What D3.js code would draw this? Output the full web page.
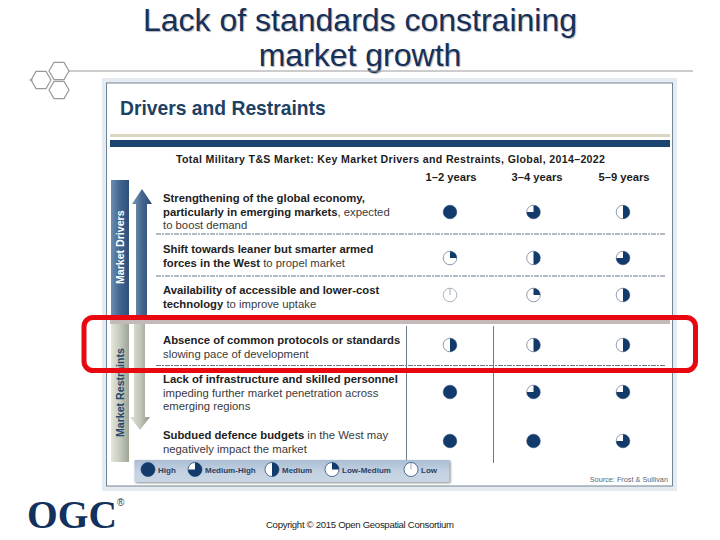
<!DOCTYPE html>
<html><head><meta charset="utf-8">
<script src="https://cdn.jsdelivr.net/npm/d3@7"></script>
<style>html,body{margin:0;padding:0;background:#fff}svg{display:block}text{font-family:"Liberation Sans",Arial,sans-serif}</style>
</head><body><div id="c"></div>
<script>
// ---- data ----
const titleLines = ["Lack of standards constraining", "market growth"];
const panelTitle = "Drivers and Restraints";
const subtitle = "Total Military T&S Market: Key Market Drivers and Restraints, Global, 2014–2022";
const periods = ["1–2 years", "3–4 years", "5–9 years"];
const factors = ["d1", "d2", "d3", "r1", "r2", "r3"];
// each text line: [bold part, regular part]
const factorText = [
  [["Strengthening of the global economy,", ""], ["particularly in  emerging markets", ", expected"], ["", "to boost demand"]],
  [["Shift towards leaner but smarter armed", ""], ["forces in the West", " to propel market"]],
  [["Availability of accessible and lower-cost", ""], ["technology", " to improve uptake"]],
  [["Absence of common protocols or standards", ""], ["", "slowing pace of development"]],
  [["Lack of infrastructure and skilled personnel", ""], ["", "impeding further market penetration across"], ["", "emerging regions"]],
  [["Subdued defence budgets", " in the West may"], ["", "negatively impact the market"]]
];
// impact level, share of the circle filled
const impact1to2 = [1, 0.25, 0, 0.5, 1, 1];
const impact3to4 = [0.75, 0.5, 0.25, 0.5, 0.75, 1];
const impact5to9 = [0.5, 0.75, 0.5, 0.5, 0.75, 0.75];
const legendLabels = ["High", "Medium-High", "Medium", "Low-Medium", "Low"];
const legendLevels = [1, 0.75, 0.5, 0.25, 0];
const sideLabels = ["Market Drivers", "Market Restraints"];
const sourceText = "Source: Frost & Sullivan";
const copyrightText = "Copyright © 2015 Open Geospatial Consortium";

// ---- layout ----
const W = 720, H = 540;
const navy = "#123a6b";
const svg = d3.select("#c").append("svg").attr("width", W).attr("height", H);
const defs = svg.append("defs");
function grad(id, stops, horiz) {
  const g = defs.append("linearGradient").attr("id", id)
    .attr("x1", 0).attr("y1", 0).attr("x2", horiz ? 1 : 0).attr("y2", horiz ? 0 : 1);
  stops.forEach(([o, c]) => g.append("stop").attr("offset", o).attr("stop-color", c));
}
grad("gBlue", [[0, "#6f8db0"], [0.5, "#3f6690"], [1, "#2c4f7a"]], true);
grad("gGrey", [[0, "#e4e6da"], [0.5, "#c4cabb"], [1, "#9da596"]], true);
grad("gLeg", [[0, "#a9bdd4"], [0.5, "#c3d1e1"], [1, "#c9d6e5"]], false);
grad("gUp", [[0, "#7d99b8"], [0.5, "#44678f"], [1, "#2a4a72"]], true);
grad("gDown", [[0, "#dfe3d8"], [0.5, "#c3c8bc"], [1, "#8f9689"]], true);

// slide title
svg.append("g").selectAll("text").data(titleLines).join("text")
  .attr("x", 360).attr("y", (d, i) => 31 + i * 35)
  .attr("text-anchor", "middle").attr("font-size", 32).attr("fill", "#16305a")
  .style("text-shadow", "1px 1px 1px #b5b5b5").text(d => d);

// hexagon decoration and rule
svg.append("line").attr("x1", 68).attr("x2", 693).attr("y1", 71).attr("y2", 71)
  .attr("stroke", "#9a9a9a").attr("stroke-width", 1.2);
const hexLine = d3.line().curve(d3.curveLinearClosed);
const hex = (cx, cy, r) => d3.range(6).map(i => [cx + r * Math.cos(i * Math.PI / 3), cy + r * Math.sin(i * Math.PI / 3)]);
svg.append("g").selectAll("path").data([[59, 71], [41, 80], [59, 90]]).join("path")
  .attr("d", d => hexLine(hex(d[0], d[1], 10))).attr("fill", "#fff")
  .attr("stroke", "#9a9a9a").attr("stroke-width", 1.2);
svg.append("line").attr("x1", 29).attr("x2", 33).attr("y1", 80).attr("y2", 80).attr("stroke", "#9a9a9a");

// panel
svg.append("rect").attr("x", 102).attr("y", 78).attr("width", 575).attr("height", 413).attr("fill", "#e6eaf1");
svg.append("rect").attr("x", 106.5).attr("y", 83).attr("width", 566).attr("height", 403)
  .attr("fill", "#fff").attr("stroke", "#6f8496").attr("stroke-width", 1);
svg.append("text").attr("x", 120).attr("y", 115).attr("font-size", 19.3).attr("font-weight", "bold")
  .attr("fill", "#1d4163").text(panelTitle);
svg.append("rect").attr("x", 110).attr("y", 134).attr("width", 560).attr("height", 3).attr("fill", "#d9d7c0");
svg.append("rect").attr("x", 110).attr("y", 140).attr("width", 560).attr("height", 7).attr("fill", "#1b4470");
svg.append("text").attr("x", 176).attr("y", 163).attr("font-size", 10.6).attr("font-weight", "bold")
  .attr("fill", "#1c1c1c").attr("textLength", 429).text(subtitle);

// scales
const xCol = d3.scaleOrdinal().domain(periods).range([450, 533.5, 623]);
const xHead = d3.scaleOrdinal().domain(periods).range([451, 537, 624]);
const y = d3.scaleOrdinal().domain(factors).range([212, 258, 295, 345, 392, 441]);
const textTop = d3.scaleOrdinal().domain(factors).range([202, 253, 294, 344, 383, 439]);

// column heads
svg.append("g").selectAll("text").data(periods).join("text")
  .attr("x", d => xHead(d)).attr("y", 181)
  .attr("text-anchor", "middle").attr("font-size", 11.2).attr("font-weight", "bold").attr("fill", "#1c1c1c").text(d => d);

// side bars
const sideBars = [{ y: 180, h: 139, fill: "url(#gBlue)", text: "#fff" }, { y: 320, h: 142, fill: "url(#gGrey)", text: "#24476f" }];
const sg = svg.append("g").selectAll("g").data(sideBars).join("g");
sg.append("rect").attr("x", 111).attr("y", d => d.y).attr("width", 18).attr("height", d => d.h).attr("fill", d => d.fill);
sg.append("text").attr("transform", (d, i) => `translate(124,${i ? 437 : 284}) rotate(-90)`)
  .attr("font-size", 10.6).attr("font-weight", "bold").attr("fill", d => d.text).text((d, i) => sideLabels[i]);

// arrows
const arrowLine = d3.line();
svg.append("path").attr("fill", "url(#gDown)")
  .attr("d", arrowLine([[134, 322], [145, 322], [145, 417], [150, 417], [140, 430], [130, 417], [134, 417]]) + "Z");
svg.append("path").attr("fill", "url(#gUp)")
  .attr("d", arrowLine([[136, 318], [147, 318], [147, 204], [152, 204], [142, 189], [132, 204], [136, 204]]) + "Z");

// row separators and column rules
svg.append("g").selectAll("line").data([234, 276, 365.5]).join("line")
  .attr("x1", 156).attr("x2", 666).attr("y1", d => d).attr("y2", d => d)
  .attr("stroke", "#56697a").attr("stroke-width", 0.9).attr("stroke-dasharray", "5 1 2 1");
svg.append("g").selectAll("line").data([406.5, 493.5]).join("line")
  .attr("x1", d => d).attr("x2", d => d).attr("y1", 326).attr("y2", 463)
  .attr("stroke", "#6b7c8c").attr("stroke-width", 1);

// factor text
const rowG = svg.append("g").selectAll("g").data(factors).join("g");
rowG.each(function (f, i) {
  const g = d3.select(this);
  const top = textTop(f);
  factorText[i].forEach((ln, j) => {
    const t = g.append("text").attr("x", 163).attr("y", top + j * 13.7).attr("font-size", 11.3).attr("fill", "#222");
    if (ln[0]) t.append("tspan").attr("font-weight", "bold").text(ln[0]);
    if (ln[1]) t.append("tspan").attr("fill", "#3a3a3a").text(ln[1]);
  });
});

// Harvey balls
const arc = d3.arc().innerRadius(0).startAngle(0);
function ball(sel, r) {
  sel.append("circle").attr("r", r).attr("fill", "#fff")
    .attr("stroke", d => d.v === 0 ? "#8a98a6" : "#5a7390").attr("stroke-width", 0.7);
  sel.filter(d => d.v > 0).append("path")
    .attr("d", d => d.v >= 1 ? d3.arc().innerRadius(0).outerRadius(r)({ startAngle: 0, endAngle: 2 * Math.PI })
      : arc.outerRadius(r)({ endAngle: d.v * 2 * Math.PI }))
    .attr("fill", navy);
  sel.filter(d => d.v === 0).append("line").attr("y1", -r).attr("y2", 0).attr("stroke", "#8a98a6").attr("stroke-width", 0.8);
}
const impact = [impact1to2, impact3to4, impact5to9];
const balls = periods.flatMap((p, c) => factors.map((f, r) => ({ p, f, v: impact[c][r] })));
const bg = svg.append("g").selectAll("g").data(balls).join("g")
  .attr("transform", d => `translate(${xCol(d.p)},${y(d.f)})`);
ball(bg, 6.8);

// legend
svg.append("rect").attr("x", 134.5).attr("y", 460).attr("width", 315).attr("height", 22)
  .attr("fill", "url(#gLeg)").style("filter", "drop-shadow(1px 1px 1px #888)");
const legX = d3.scaleOrdinal().domain(legendLabels).range([148, 195, 272, 332, 411]);
const lg = svg.append("g").selectAll("g").data(legendLabels.map((l, i) => ({ l, v: legendLevels[i] }))).join("g")
  .attr("transform", d => `translate(${legX(d.l)},469.5)`);
ball(lg, 7);
lg.select("circle").attr("stroke", navy);
lg.append("text").attr("x", 10).attr("y", 3).attr("font-size", 8).attr("font-weight", "bold").attr("fill", "#2a4160").text(d => d.l);

svg.append("text").attr("x", 668).attr("y", 482).attr("text-anchor", "end").attr("font-size", 7.3)
  .attr("fill", "#5a6672").text(sourceText);

// highlight frame
svg.append("rect").attr("x", 110).attr("y", 320).attr("width", 560).attr("height", 4).attr("fill", "#c4b9b9");
svg.append("rect").attr("x", 84).attr("y", 317.5).attr("width", 611.5).attr("height", 53).attr("rx", 9)
  .attr("fill", "none").attr("stroke", "#e8080f").attr("stroke-width", 5);

// footer
svg.append("text").attr("x", 27).attr("y", 528).attr("font-size", 39.5).attr("font-weight", "bold")
  .style("font-family", "'Liberation Serif',serif").attr("fill", "#12315c").text("OGC");
svg.append("text").attr("x", 117).attr("y", 506).attr("font-size", 10).attr("fill", "#333").text("®");
svg.append("text").attr("x", 266).attr("y", 528).attr("font-size", 9.6).attr("fill", "#222").attr("textLength", 188).text(copyrightText);
</script></body></html>
